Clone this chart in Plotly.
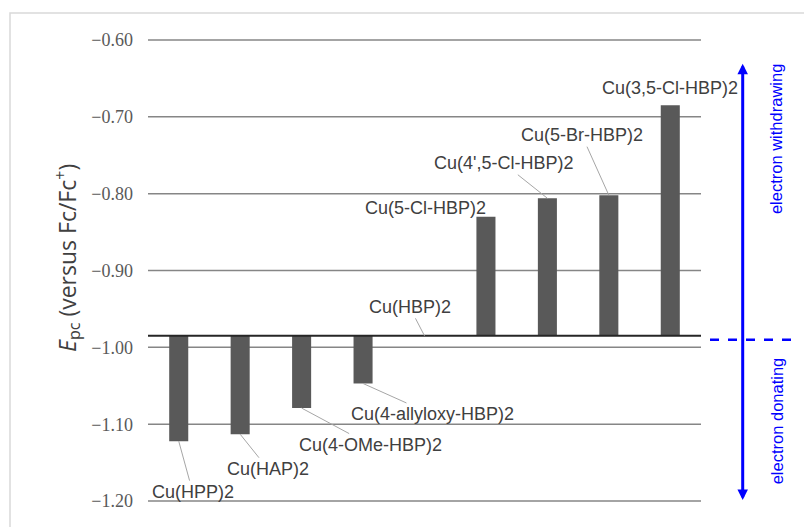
import plotly.graph_objects as go

# ---------------- data ----------------
compounds = ["Cu(HPP)2", "Cu(HAP)2", "Cu(4-OMe-HBP)2", "Cu(4-allyloxy-HBP)2",
             "Cu(HBP)2", "Cu(5-Cl-HBP)2", "Cu(4',5-Cl-HBP)2", "Cu(5-Br-HBP)2",
             "Cu(3,5-Cl-HBP)2"]
epc_values = [-1.122, -1.113, -1.079, -1.047, -0.985, -0.830, -0.806, -0.802, -0.685]
reference_value = -0.985          # Cu(HBP)2 reference level
y_ticks = [-1.20, -1.10, -1.00, -0.90, -0.80, -0.70, -0.60]

# ---------------- layout / style ----------------
OFF = 8                      # page body margin
W, H = 812 - OFF, 527 - OFF
ML, MT = 148 - OFF, 39 - OFF
PW = 553
PH = 463
MR = W - ML - PW
MB = H - MT - PH

def px_x(p):                 # page pixel -> paper x
    return (p - OFF - ML) / PW

def px_y(p):                 # page pixel -> paper y
    return (MT + PH - (p - OFF)) / PH

BAR_COLOR = "#595959"
TEXT_COLOR = "#404040"
GRID_COLOR = "#868686"
BLUE = "#0000FF"

# (ax, ay, has_leader) text offsets in pixels relative to bar end
label_offsets = [(14, 51, True), (28, 35, True), (69, 37, True), (69, 31, True),
                 (-15, -29, True), (-60, -9, False), (-44, -35, True),
                 (-27, -60, True), (0, -17, False)]

x_idx = list(range(len(compounds)))
heights = [v - reference_value for v in epc_values]

fig = go.Figure()
fig.add_trace(go.Bar(
    x=x_idx, y=heights, base=reference_value,
    marker=dict(color=BAR_COLOR, line=dict(width=0)),
    width=0.31, hoverinfo="skip", showlegend=False,
))

LABEL_FONT = dict(family="Liberation Sans", size=18, color=TEXT_COLOR)
annotations = []
for i, (name, v) in enumerate(zip(compounds, epc_values)):
    ax, ay, leader = label_offsets[i]
    if leader:
        annotations.append(dict(
            x=i, y=v, xref="x", yref="y", text=name, showarrow=True,
            ax=ax, ay=ay, arrowhead=0, arrowwidth=1, arrowcolor="#a6a6a6",
            font=LABEL_FONT,
        ))
    else:
        annotations.append(dict(
            x=i, y=v, xref="x", yref="y", text=name, showarrow=False,
            xshift=ax, yshift=-ay, font=LABEL_FONT,
        ))

# y-axis title
annotations.append(dict(
    x=px_x(67), y=px_y(258), xref="paper", yref="paper",
    xanchor="center", yanchor="middle",
    text="<i>E</i><sub>pc</sub> (versus Fc/Fc<sup>+</sup>)", showarrow=False,
    textangle=-90, font=dict(family="Open Sans", size=23, color=TEXT_COLOR),
))

# double-headed blue arrow
annotations.append(dict(
    x=px_x(742.7), y=-0.631, xref="paper", yref="y",
    axref="pixel", ayref="y", ax=0, ay=-1.2005,
    text="", showarrow=True, arrowside="end+start",
    arrowhead=2, startarrowhead=2, arrowsize=0.7, startarrowsize=0.7,
    arrowwidth=3, arrowcolor=BLUE,
))
annotations.append(dict(
    x=px_x(776.7), y=-0.7294, xref="paper", yref="y",
    xanchor="center", yanchor="middle",
    text="electron withdrawing", showarrow=False, textangle=-90,
    font=dict(family="Liberation Sans", size=16.5, color=BLUE),
))
annotations.append(dict(
    x=px_x(776.7), y=-1.0953, xref="paper", yref="y",
    xanchor="center", yanchor="middle",
    text="electron donating", showarrow=False, textangle=-90,
    font=dict(family="Liberation Sans", size=16.5, color=BLUE),
))

shapes = []
# horizontal gridlines at the tick values
for t in y_ticks:
    shapes.append(dict(type="line", xref="paper", yref="y", x0=0, x1=1,
                       y0=t, y1=t, line=dict(color=GRID_COLOR, width=1.5),
                       layer="below"))
shapes += [
    # reference baseline
    dict(type="line", xref="paper", yref="y", x0=0, x1=1,
         y0=reference_value, y1=reference_value,
         line=dict(color="#262626", width=2)),
    # dashed separator
    dict(type="line", xref="paper", yref="y", x0=px_x(710), x1=px_x(800),
         y0=-0.99, y1=-0.99, line=dict(color=BLUE, width=2.5, dash="dash")),
    # outer chart border
    dict(type="rect", xref="paper", yref="paper", x0=px_x(10), x1=px_x(830),
         y0=px_y(540), y1=px_y(13), line=dict(color="#d9d9d9", width=1.5),
         layer="below"),
]

fig.update_layout(
    width=W, height=H,
    margin=dict(l=ML, r=MR, t=MT, b=MB, pad=0),
    paper_bgcolor="white", plot_bgcolor="rgba(0,0,0,0)",
    xaxis=dict(range=[-0.5, len(compounds) - 0.5], showgrid=False,
               showticklabels=False, zeroline=False, showline=False, ticks=""),
    yaxis=dict(range=[-1.2012, -0.5988], tickvals=y_ticks, tickformat=".2f",
               showgrid=False, zeroline=False, showline=False, ticks="",
               ticklabelstandoff=14,
               tickfont=dict(family="Times New Roman, Liberation Serif, serif",
                             size=18, color="#595959")),
    annotations=annotations, shapes=shapes, showlegend=False,
    bargap=0.69,
)

fig.write_html("out.html")
